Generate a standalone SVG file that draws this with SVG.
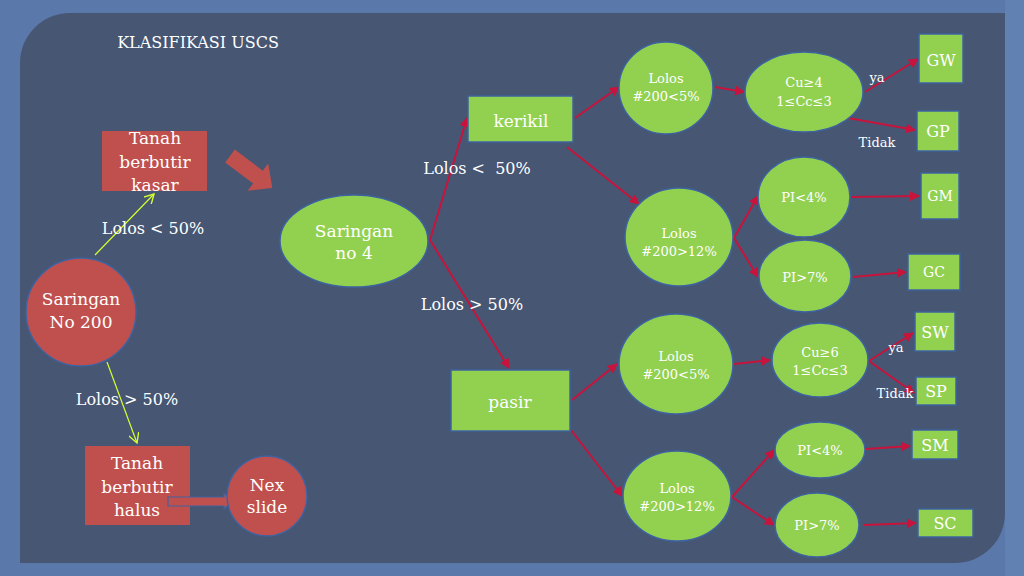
<svg xmlns="http://www.w3.org/2000/svg" width="1024" height="576" viewBox="0 0 1024 576">
<defs>
<style>
.t{font-family:"DejaVu Serif","Liberation Serif",serif;fill:#ffffff;text-anchor:middle}
.red{fill:#c0504d}
.grn{fill:#92d050;stroke:#3e63a0;stroke-width:1.5}
.rn{fill:#c0504d;stroke:#3e63a0;stroke-width:1.5}
.c{fill:none;stroke:#c8143c;stroke-width:2}
.y{fill:none;stroke:#d4ff30;stroke-width:1.2}
</style>
<marker id="ah" viewBox="0 0 10 10" refX="9" refY="5" markerWidth="5" markerHeight="5" orient="auto" markerUnits="strokeWidth">
<path d="M0,0 L10,5 L0,10 z" fill="#c8143c"/>
</marker>
<marker id="ay" viewBox="0 0 10 10" refX="9" refY="5" markerWidth="9" markerHeight="9" orient="auto" markerUnits="strokeWidth">
<path d="M0,0 L9,5 L0,10" fill="none" stroke="#d4ff30" stroke-width="1.3"/>
</marker>
</defs>
<rect x="0" y="0" width="1024" height="576" fill="#5a78aa"/>
<rect x="1005" y="0" width="19" height="576" fill="#6281b3"/>
<path d="M70,13 H1005 V513 A50,50 0 0 1 955,563 H20 V63 A50,50 0 0 1 70,13 Z" fill="#465673"/>
<text x="198" y="48" class="t" font-size="16">KLASIFIKASI USCS</text>

<g id="connectors">
<line x1="95" y1="255" x2="154" y2="194" class="y" marker-end="url(#ay)"/>
<line x1="107" y1="362" x2="137" y2="443" class="y" marker-end="url(#ay)"/>
<line x1="430" y1="240" x2="467" y2="118" class="c" marker-end="url(#ah)"/>
<line x1="430" y1="240" x2="509" y2="368" class="c" marker-end="url(#ah)"/>
<line x1="575" y1="118" x2="619" y2="87" class="c" marker-end="url(#ah)"/>
<line x1="567" y1="147" x2="639" y2="204" class="c" marker-end="url(#ah)"/>
<line x1="715" y1="87" x2="744" y2="92" class="c" marker-end="url(#ah)"/>
<line x1="865" y1="92" x2="918" y2="59" class="c" marker-end="url(#ah)"/>
<line x1="848" y1="118" x2="915" y2="130" class="c" marker-end="url(#ah)"/>
<line x1="734" y1="238" x2="758" y2="196" class="c" marker-end="url(#ah)"/>
<line x1="734" y1="238" x2="758" y2="277" class="c" marker-end="url(#ah)"/>
<line x1="851" y1="197" x2="919" y2="196" class="c" marker-end="url(#ah)"/>
<line x1="853" y1="277" x2="906" y2="272" class="c" marker-end="url(#ah)"/>
<line x1="572" y1="400" x2="617" y2="364" class="c" marker-end="url(#ah)"/>
<line x1="571" y1="430" x2="622" y2="496" class="c" marker-end="url(#ah)"/>
<line x1="734" y1="364" x2="770" y2="360" class="c" marker-end="url(#ah)"/>
<line x1="869" y1="361" x2="913" y2="333" class="c" marker-end="url(#ah)"/>
<line x1="869" y1="361" x2="914" y2="393" class="c" marker-end="url(#ah)"/>
<line x1="732" y1="497" x2="774" y2="450" class="c" marker-end="url(#ah)"/>
<line x1="732" y1="497" x2="774" y2="525" class="c" marker-end="url(#ah)"/>
<line x1="866" y1="449" x2="910" y2="446" class="c" marker-end="url(#ah)"/>
<line x1="864" y1="525" x2="916" y2="523" class="c" marker-end="url(#ah)"/>
</g>

<g id="big-arrow">
<polygon transform="translate(230,156) rotate(37)" points="0,-8 35,-8 35,-17 53,0 35,17 35,8 0,8" class="red"/>
</g>

<g id="kasar">
<rect x="102" y="131" width="105" height="60" class="red"/>
<text class="t" font-size="17" x="155" y="144">Tanah</text>
<text class="t" font-size="17" x="155" y="168">berbutir</text>
<text class="t" font-size="17" x="155" y="191">kasar</text>
</g>
<text class="t" font-size="16" x="153" y="234">Lolos &lt; 50%</text>
<text class="t" font-size="16" x="127" y="405">Lolos &gt; 50%</text>

<g id="saringan200">
<ellipse cx="81" cy="312" rx="55" ry="54" class="rn"/>
<text class="t" font-size="17" x="81" y="305">Saringan</text>
<text class="t" font-size="17" x="81" y="328">No 200</text>
</g>

<g id="halus">
<rect x="85" y="446" width="105" height="79" class="red"/>
<text class="t" font-size="17" x="137" y="469">Tanah</text>
<text class="t" font-size="17" x="137" y="493">berbutir</text>
<text class="t" font-size="17" x="137" y="516">halus</text>
</g>

<g id="nex-arrow">
<polygon points="168,497 224,497 224,493 233,501 224,509 224,506 168,506" fill="#c0504d" stroke="#3e63a0" stroke-width="1.2"/>
</g>

<g id="nex">
<circle cx="267" cy="496" r="40" class="rn"/>
<text class="t" font-size="17" x="267" y="491">Nex</text>
<text class="t" font-size="17" x="267" y="513">slide</text>
</g>

<g id="saringan4">
<ellipse cx="354" cy="241" rx="74" ry="46" class="grn"/>
<text class="t" font-size="17" x="354" y="237">Saringan</text>
<text class="t" font-size="17" x="354" y="259">no 4</text>
</g>
<text class="t" font-size="16" x="477" y="174">Lolos &lt;&#160; 50%</text>
<text class="t" font-size="16" x="472" y="310">Lolos &gt; 50%</text>

<g id="kerikil">
<rect x="468" y="96" width="105" height="46" class="grn"/>
<text class="t" font-size="17" x="521" y="127">kerikil</text>
</g>
<g id="pasir">
<rect x="451" y="370" width="119" height="61" class="grn"/>
<text class="t" font-size="17" x="510" y="408">pasir</text>
</g>

<g id="g-lolos5">
<ellipse cx="666" cy="88" rx="47" ry="46" class="grn"/>
<text class="t" font-size="13" x="666" y="83">Lolos</text>
<text class="t" font-size="13" x="666" y="101">#200&lt;5%</text>
</g>
<g id="g-cu">
<ellipse cx="804" cy="92" rx="59" ry="40" class="grn"/>
<text class="t" font-size="13" x="804" y="87">Cu≥4</text>
<text class="t" font-size="13" x="804" y="106">1≤Cc≤3</text>
</g>
<text class="t" font-size="13" x="877" y="82">ya</text>
<text class="t" font-size="13" x="877" y="147">Tidak</text>
<g id="GW">
<rect x="919" y="34" width="44" height="49" class="grn"/>
<text class="t" font-size="16" x="941" y="66">GW</text>
</g>
<g id="GP">
<rect x="917" y="111" width="42" height="40" class="grn"/>
<text class="t" font-size="16" x="938" y="137">GP</text>
</g>

<g id="g-lolos12">
<ellipse cx="679" cy="237" rx="54" ry="49" class="grn"/>
<text class="t" font-size="13" x="679" y="238">Lolos</text>
<text class="t" font-size="13" x="679" y="256">#200&gt;12%</text>
</g>
<g id="g-pi4">
<ellipse cx="804" cy="197" rx="46" ry="40" class="grn"/>
<text class="t" font-size="13" x="804" y="202">PI&lt;4%</text>
</g>
<g id="g-pi7">
<ellipse cx="805" cy="276" rx="46" ry="36" class="grn"/>
<text class="t" font-size="13" x="805" y="282">PI&gt;7%</text>
</g>
<g id="GM">
<rect x="921" y="173" width="38" height="46" class="grn"/>
<text class="t" font-size="14" x="940" y="201">GM</text>
</g>
<g id="GC">
<rect x="908" y="254" width="52" height="36" class="grn"/>
<text class="t" font-size="14" x="934" y="277">GC</text>
</g>

<g id="s-lolos5">
<ellipse cx="676" cy="364" rx="57" ry="50" class="grn"/>
<text class="t" font-size="13" x="676" y="361">Lolos</text>
<text class="t" font-size="13" x="676" y="379">#200&lt;5%</text>
</g>
<g id="s-cu">
<ellipse cx="820" cy="360" rx="48" ry="37" class="grn"/>
<text class="t" font-size="13" x="820" y="357">Cu≥6</text>
<text class="t" font-size="13" x="820" y="375">1≤Cc≤3</text>
</g>
<text class="t" font-size="13" x="896" y="352">ya</text>
<text class="t" font-size="13" x="895" y="398">Tidak</text>
<g id="SW">
<rect x="915" y="312" width="40" height="39" class="grn"/>
<text class="t" font-size="16" x="935" y="338">SW</text>
</g>
<g id="SP">
<rect x="916" y="377" width="40" height="28" class="grn"/>
<text class="t" font-size="16" x="936" y="397">SP</text>
</g>

<g id="s-lolos12">
<ellipse cx="677" cy="496" rx="54" ry="45" class="grn"/>
<text class="t" font-size="13" x="677" y="493">Lolos</text>
<text class="t" font-size="13" x="677" y="511">#200&gt;12%</text>
</g>
<g id="s-pi4">
<ellipse cx="820" cy="450" rx="45" ry="28" class="grn"/>
<text class="t" font-size="13" x="820" y="455">PI&lt;4%</text>
</g>
<g id="s-pi7">
<ellipse cx="817" cy="525" rx="42" ry="32" class="grn"/>
<text class="t" font-size="13" x="817" y="530">PI&gt;7%</text>
</g>
<g id="SM">
<rect x="912" y="430" width="46" height="29" class="grn"/>
<text class="t" font-size="16" x="935" y="451">SM</text>
</g>
<g id="SC">
<rect x="918" y="509" width="55" height="28" class="grn"/>
<text class="t" font-size="16" x="945" y="529">SC</text>
</g>
</svg>
